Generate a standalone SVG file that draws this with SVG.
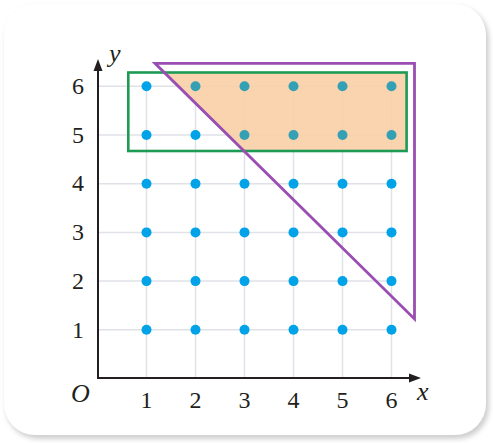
<svg xmlns="http://www.w3.org/2000/svg" width="493" height="443" viewBox="0 0 493 443">
<style>
.grid{stroke:#e0e2e8;stroke-width:1.5;fill:none}
.axis{stroke:#231f20;stroke-width:2;fill:none}
.dot{fill:#00a3e8}
.dot2{fill:#33a0b4}
.num{font-family:"Liberation Serif","Times New Roman",serif;font-size:24px;fill:#231f20;text-anchor:middle}
.var{font-family:"Liberation Serif","Times New Roman",serif;font-size:26px;font-style:italic;fill:#231f20}
</style>
<defs>
<filter id="sh" x="-5%" y="-5%" width="110%" height="110%">
<feGaussianBlur stdDeviation="2.5"/>
</filter>
</defs>
<rect x="0" y="0" width="493" height="443" fill="#ffffff"/>
<rect id="card-shadow" x="6" y="7" width="483" height="432" rx="32" fill="#cfcfcf" filter="url(#sh)"/>
<rect id="card" x="4" y="4" width="482" height="431" rx="31" fill="#ffffff"/>
<g id="grid">
<line class="grid" x1="146.5" y1="378" x2="146.5" y2="86.3"/>
<line class="grid" x1="195.5" y1="378" x2="195.5" y2="86.3"/>
<line class="grid" x1="244.5" y1="378" x2="244.5" y2="86.3"/>
<line class="grid" x1="293.5" y1="378" x2="293.5" y2="86.3"/>
<line class="grid" x1="342.5" y1="378" x2="342.5" y2="86.3"/>
<line class="grid" x1="391.5" y1="378" x2="391.5" y2="86.3"/>
<line class="grid" x1="98" y1="329.8" x2="391.5" y2="329.8"/>
<line class="grid" x1="98" y1="281.1" x2="391.5" y2="281.1"/>
<line class="grid" x1="98" y1="232.4" x2="391.5" y2="232.4"/>
<line class="grid" x1="98" y1="183.7" x2="391.5" y2="183.7"/>
<line class="grid" x1="98" y1="135" x2="391.5" y2="135"/>
<line class="grid" x1="98" y1="86.3" x2="391.5" y2="86.3"/>
</g>
<polygon id="overlap" points="164.4,72.5 406.5,72.5 406.5,151 244.2,151" fill="#f9cfa6" fill-opacity="0.9"/>
<g id="dots">
<circle class="dot" cx="146.5" cy="329.8" r="5"/><circle class="dot" cx="195.5" cy="329.8" r="5"/><circle class="dot" cx="244.5" cy="329.8" r="5"/><circle class="dot" cx="293.5" cy="329.8" r="5"/><circle class="dot" cx="342.5" cy="329.8" r="5"/><circle class="dot" cx="391.5" cy="329.8" r="5"/>
<circle class="dot" cx="146.5" cy="281.1" r="5"/><circle class="dot" cx="195.5" cy="281.1" r="5"/><circle class="dot" cx="244.5" cy="281.1" r="5"/><circle class="dot" cx="293.5" cy="281.1" r="5"/><circle class="dot" cx="342.5" cy="281.1" r="5"/><circle class="dot" cx="391.5" cy="281.1" r="5"/>
<circle class="dot" cx="146.5" cy="232.4" r="5"/><circle class="dot" cx="195.5" cy="232.4" r="5"/><circle class="dot" cx="244.5" cy="232.4" r="5"/><circle class="dot" cx="293.5" cy="232.4" r="5"/><circle class="dot" cx="342.5" cy="232.4" r="5"/><circle class="dot" cx="391.5" cy="232.4" r="5"/>
<circle class="dot" cx="146.5" cy="183.7" r="5"/><circle class="dot" cx="195.5" cy="183.7" r="5"/><circle class="dot" cx="244.5" cy="183.7" r="5"/><circle class="dot" cx="293.5" cy="183.7" r="5"/><circle class="dot" cx="342.5" cy="183.7" r="5"/><circle class="dot" cx="391.5" cy="183.7" r="5"/>
<circle class="dot" cx="146.5" cy="135" r="5"/><circle class="dot" cx="195.5" cy="135" r="5"/><circle class="dot2" cx="244.5" cy="135" r="5"/><circle class="dot2" cx="293.5" cy="135" r="5"/><circle class="dot2" cx="342.5" cy="135" r="5"/><circle class="dot2" cx="391.5" cy="135" r="5"/>
<circle class="dot" cx="146.5" cy="86.3" r="5"/><circle class="dot2" cx="195.5" cy="86.3" r="5"/><circle class="dot2" cx="244.5" cy="86.3" r="5"/><circle class="dot2" cx="293.5" cy="86.3" r="5"/><circle class="dot2" cx="342.5" cy="86.3" r="5"/><circle class="dot2" cx="391.5" cy="86.3" r="5"/>
</g>
<rect id="rectangle" x="128.3" y="72.5" width="278.3" height="78.5" fill="none" stroke="#1d9b55" stroke-width="2.6"/>
<polygon id="triangle" points="155,63.3 414.5,63.3 414.5,319" fill="none" stroke="#9a4db3" stroke-width="2.8" stroke-linejoin="miter"/>
<g id="axes">
<line class="axis" x1="98" y1="379" x2="98" y2="68"/>
<polygon points="98,59 93.5,71 102.5,71" fill="#231f20"/>
<line class="axis" x1="97" y1="378" x2="412" y2="378"/>
<polygon points="421,378 409,373.5 409,382.5" fill="#231f20"/>
</g>
<g id="labels">
<text class="var" x="109" y="62">y</text>
<text class="var" x="417" y="400">x</text>
<text class="var" x="71" y="402">O</text>
<text class="num" x="146.5" y="408">1</text>
<text class="num" x="195.5" y="408">2</text>
<text class="num" x="244.5" y="408">3</text>
<text class="num" x="293.5" y="408">4</text>
<text class="num" x="342.5" y="408">5</text>
<text class="num" x="391.5" y="408">6</text>
<text class="num" x="78" y="337.5">1</text>
<text class="num" x="78" y="288.8">2</text>
<text class="num" x="78" y="240.1">3</text>
<text class="num" x="78" y="191.4">4</text>
<text class="num" x="78" y="142.7">5</text>
<text class="num" x="78" y="94">6</text>
</g>
</svg>
